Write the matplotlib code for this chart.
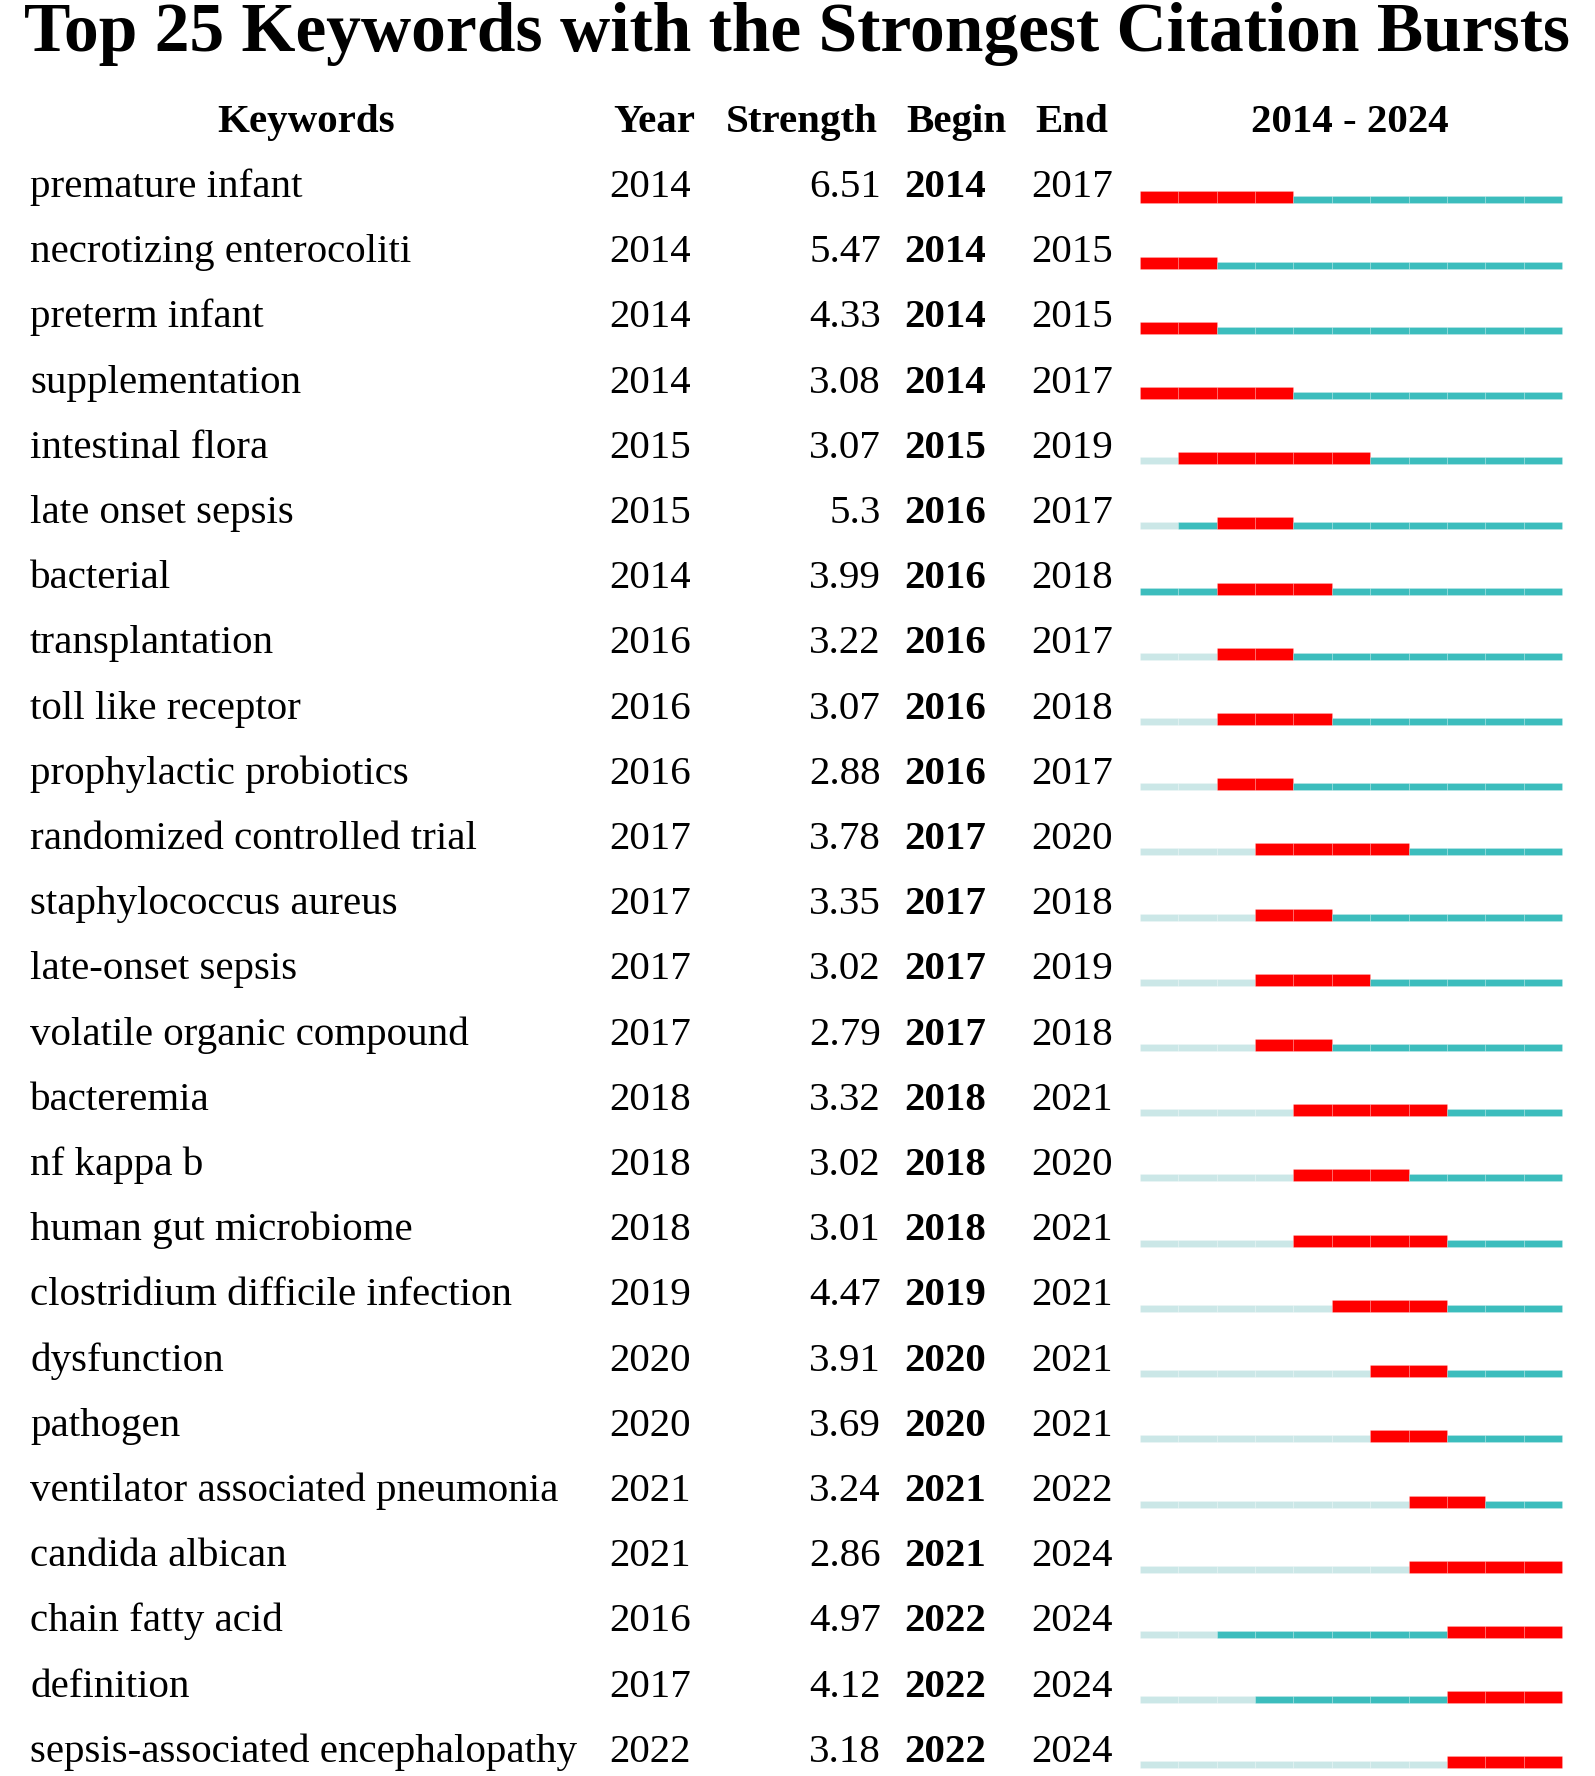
import matplotlib
matplotlib.use("Agg")
import matplotlib.pyplot as plt

# ---- data ----
keywords = [
    "premature infant", "necrotizing enterocoliti", "preterm infant",
    "supplementation", "intestinal flora", "late onset sepsis", "bacterial",
    "transplantation", "toll like receptor", "prophylactic probiotics",
    "randomized controlled trial", "staphylococcus aureus", "late-onset sepsis",
    "volatile organic compound", "bacteremia", "nf kappa b",
    "human gut microbiome", "clostridium difficile infection", "dysfunction",
    "pathogen", "ventilator associated pneumonia", "candida albican",
    "chain fatty acid", "definition", "sepsis-associated encephalopathy",
]
years = [2014, 2014, 2014, 2014, 2015, 2015, 2014, 2016, 2016, 2016,
         2017, 2017, 2017, 2017, 2018, 2018, 2018, 2019, 2020, 2020,
         2021, 2021, 2016, 2017, 2022]
strengths = ["6.51", "5.47", "4.33", "3.08", "3.07", "5.3", "3.99", "3.22",
             "3.07", "2.88", "3.78", "3.35", "3.02", "2.79", "3.32", "3.02",
             "3.01", "4.47", "3.91", "3.69", "3.24", "2.86", "4.97", "4.12",
             "3.18"]
begins = [2014, 2014, 2014, 2014, 2015, 2016, 2016, 2016, 2016, 2016,
          2017, 2017, 2017, 2017, 2018, 2018, 2018, 2019, 2020, 2020,
          2021, 2021, 2022, 2022, 2022]
ends = [2017, 2015, 2015, 2017, 2019, 2017, 2018, 2017, 2018, 2017,
        2020, 2018, 2019, 2018, 2021, 2020, 2021, 2021, 2021, 2021,
        2022, 2024, 2024, 2024, 2024]
first_year, last_year = 2014, 2024

RED = "#FF0000"
TEAL = "#3CBDBD"
LIGHT = "#CBE7E7"
FONT = "Liberation Serif"

W, H = 1595, 1776
row0 = 197.0   # baseline of first row in pixels
dy = 65.2      # row spacing in pixels

fig = plt.figure(figsize=(W / 100, H / 100), dpi=100)

# text axes: x in pixels, y in row units
ax = fig.add_axes([0, 0, 1, 1])
ax.set_xlim(0, W)
ax.set_ylim((H - row0) / dy, -row0 / dy)
ax.axis("off")

fs = 29.5
ax.text(W / 2, -row0 / dy + 51 / dy, "Top 25 Keywords with the Strongest Citation Bursts",
        ha="center", va="baseline", fontsize=50, fontweight="bold", family=FONT)

hdr = dict(va="baseline", fontsize=fs, fontweight="bold", family=FONT)
ax.text(306, -1, "Keywords", ha="center", **hdr)
ax.text(654, -1, "Year", ha="center", **hdr)
ax.text(802, -1, "Strength", ha="center", **hdr)
ax.text(956, -1, "Begin", ha="center", **hdr)
ax.text(1072, -1, "End", ha="center", **hdr)
ax.text(1350, -1, f"{first_year} - {last_year}", ha="center", **hdr)

for i, kw in enumerate(keywords):
    ax.text(30, i, kw, ha="left", va="baseline", fontsize=fs, family=FONT)
    ax.text(609, i, str(years[i]), ha="left", va="baseline", fontsize=fs, family=FONT)
    ax.text(881, i, strengths[i], ha="right", va="baseline", fontsize=fs, family=FONT)
    ax.text(904, i, str(begins[i]), ha="left", va="baseline", fontsize=fs,
            fontweight="bold", family=FONT)
    ax.text(1031, i, str(ends[i]), ha="left", va="baseline", fontsize=fs, family=FONT)

# timeline axes: x in years, y in row units (shared with text axes)
x0, x1 = 1140, 1562
tl = fig.add_axes([x0 / W, 0, (x1 - x0) / W, 1])
tl.set_xlim(first_year, last_year + 1)
tl.set_ylim(ax.get_ylim())
tl.axis("off")

off = 6.5 / dy       # bar bottom sits a little below the baseline
thick = 12 / dy
thin = 7 / dy
for i in range(len(keywords)):
    bottom = i + off
    for yr in range(first_year, last_year + 1):
        if begins[i] <= yr <= ends[i]:
            c, h = RED, thick
        elif yr < years[i]:
            c, h = LIGHT, thin
        else:
            c, h = TEAL, thin
        tl.broken_barh([(yr, 1)], (bottom - h, h), facecolors=c,
                       edgecolor=(1, 1, 1, 0.2), linewidth=0.6)

fig.savefig("out.png", dpi=100, facecolor="white")
